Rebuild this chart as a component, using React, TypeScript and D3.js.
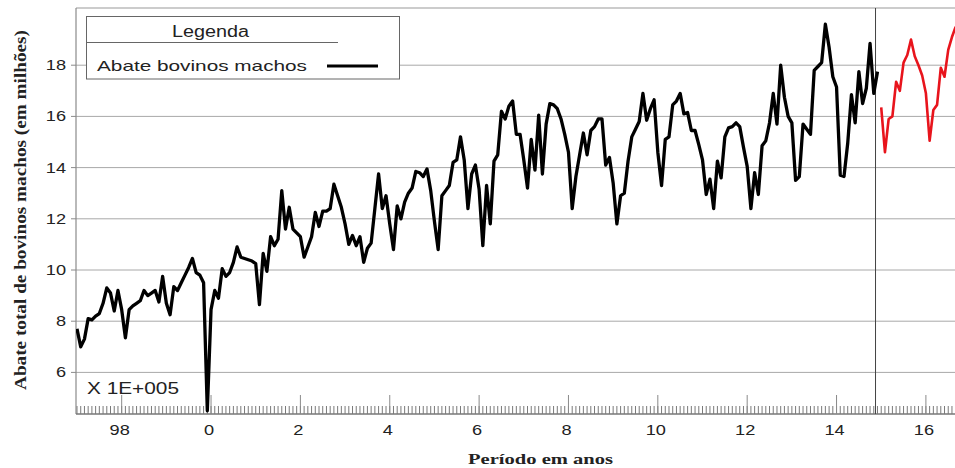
import React from "react";
import * as d3 from "d3";

// Monthly male cattle slaughter (x 100 000 head), starting January 1997
const startYear = 1997;

const observed: number[] = [
  // 1997
  7.7, 7.0, 7.3, 8.1, 8.05, 8.2, 8.3, 8.7, 9.3, 9.1, 8.4, 9.2,
  // 1998
  8.45, 7.35, 8.45, 8.6, 8.7, 8.8, 9.2, 9.0, 9.1, 9.2, 8.75, 9.75,
  // 1999
  8.7, 8.25, 9.35, 9.2, 9.5, 9.8, 10.1, 10.45, 9.9, 9.8, 9.5, 4.5,
  // 2000
  8.45, 9.2, 8.9, 10.05, 9.75, 9.9, 10.3, 10.9, 10.5, 10.45, 10.4, 10.35,
  // 2001
  10.25, 8.65, 10.65, 9.95, 11.3, 10.95, 11.2, 13.1, 11.6, 12.45, 11.6, 11.45,
  // 2002
  11.3, 10.5, 10.9, 11.3, 12.25, 11.7, 12.3, 12.3, 12.4, 13.35, 12.9, 12.45,
  // 2003
  11.8, 11.0, 11.35, 10.95, 11.3, 10.3, 10.85, 11.05, 12.4, 13.75, 12.4, 12.9,
  // 2004
  11.8, 10.8, 12.5, 12.0, 12.65, 13.0, 13.2, 13.85, 13.8, 13.65, 13.95, 13.1,
  // 2005
  11.9, 10.8, 12.9, 13.1, 13.3, 14.2, 14.3, 15.2, 14.3, 12.4, 13.75, 14.1,
  // 2006
  13.15, 10.95, 13.3, 11.8, 14.25, 14.5, 16.2, 15.9, 16.4, 16.6, 15.3, 15.3,
  // 2007
  14.3, 13.2, 15.1, 13.9, 16.05, 13.75, 15.7, 16.5, 16.45, 16.3, 15.9, 15.3,
  // 2008
  14.6, 12.4, 13.65, 14.5, 15.35, 14.5, 15.45, 15.6, 15.9, 15.9, 14.1, 14.4,
  // 2009
  13.4, 11.8, 12.9, 13.0, 14.25, 15.2, 15.5, 15.8, 16.9, 15.85, 16.3, 16.65,
  // 2010
  14.6, 13.3, 15.1, 15.2, 16.45, 16.6, 16.9, 16.1, 16.15, 15.45, 15.45, 14.9,
  // 2011
  14.3, 12.95, 13.55, 12.4, 14.25, 13.6, 15.2, 15.55, 15.6, 15.75, 15.6, 14.8,
  // 2012
  14.05, 12.4, 13.8, 12.95, 14.85, 15.05, 15.75, 16.9, 15.7, 18.0, 16.75, 16.0,
  // 2013
  15.75, 13.5, 13.65, 15.7, 15.5, 15.3, 17.8, 17.95, 18.1, 19.6, 18.7, 17.55,
  // 2014
  17.15, 13.7, 13.65, 14.95, 16.85, 15.75, 17.75, 16.5, 17.1, 18.85, 16.9, 17.75,
];

// Forecast, starting January 2015
const forecast: number[] = [
  16.35, 14.6, 15.9, 16.0, 17.35, 17.0, 18.1, 18.4, 19.0, 18.35, 18.0, 17.6,
  16.9, 15.05, 16.25, 16.45, 17.9, 17.55, 18.6, 19.1, 19.5,
];

const yTicks: number[] = [6, 8, 10, 12, 14, 16, 18];
const xTickYears: number[] = [1998, 2000, 2002, 2004, 2006, 2008, 2010, 2012, 2014, 2016];
const forecastStart = 2015;

const W = 955;
const H = 468;
const left = 76;
const right = 957;
const top = 8;
const bottom = 414;

const sans = "'Liberation Sans', Arial, sans-serif";
const serif = "'Liberation Serif', 'Times New Roman', serif";

export default function App() {
  const x = d3.scaleLinear().domain([1997, 2016]).range([77, 925.9]);
  const y = d3.scaleLinear().domain([10, 18]).range([270, 65.2]);

  const obsPts = observed.map((v, i) => [startYear + i / 12, v] as [number, number]);
  const fcPts = forecast.map(
    (v, i) => [forecastStart + i / 12, v] as [number, number]
  );

  const line = d3
    .line<[number, number]>()
    .x((d) => x(d[0]))
    .y((d) => y(d[1]));

  const monthTicks = d3.range(0, 12 * 20).map((m) => startYear + m / 12);
  const dividerX = x(forecastStart) - 5.7;

  return (
    <svg
      width={W}
      height={H}
      viewBox={`0 0 ${W} ${H}`}
      style={{ position: "absolute", left: 0, top: 0, background: "#fff" }}
    >
      <defs>
        <clipPath id="plot-area">
          <rect x={left} y={top} width={right - left} height={bottom - top} />
        </clipPath>
      </defs>
      <rect x={0} y={0} width={W} height={H} fill="#fff" />

      {/* horizontal grid */}
      {yTicks.map((t) => (
        <line
          key={"g" + t}
          x1={left}
          x2={right}
          y1={y(t)}
          y2={y(t)}
          stroke="#a8a8a8"
          strokeWidth={1}
        />
      ))}

      {/* frame */}
      <line x1={left} x2={right} y1={top} y2={top} stroke="#9a9a9a" strokeWidth={1.2} />
      <line x1={left} x2={left} y1={top} y2={bottom} stroke="#8a8a8a" strokeWidth={1.2} />
      <line x1={left} x2={right} y1={bottom} y2={bottom} stroke="#777" strokeWidth={1.5} />

      {/* monthly minor ticks */}
      <g clipPath="url(#plot-area)">
        {monthTicks.map((t, i) => (
          <line
            key={"m" + i}
            x1={x(t)}
            x2={x(t)}
            y1={bottom}
            y2={bottom - 8}
            stroke="#7a7a7a"
            strokeWidth={1}
          />
        ))}
      </g>
      {/* major ticks */}
      {xTickYears.map((t) => (
        <line
          key={"M" + t}
          x1={x(t)}
          x2={x(t)}
          y1={bottom}
          y2={bottom - 19}
          stroke="#8a8a8a"
          strokeWidth={1}
        />
      ))}

      {/* y ticks and labels */}
      {yTicks.map((t) => (
        <g key={"yt" + t}>
          <line x1={left - 5} x2={left} y1={y(t)} y2={y(t)} stroke="#8a8a8a" />
          <text
            transform={`translate(66,${y(t) + 5}) scale(1.3,1)`}
            textAnchor="end"
            fontFamily={sans}
            fontSize={14}
            fill="#222"
          >
            {t}
          </text>
        </g>
      ))}

      {/* x labels */}
      {xTickYears.map((t) => (
        <text
          key={"xl" + t}
          transform={`translate(${x(t) - 2},435) scale(1.3,1)`}
          textAnchor="middle"
          fontFamily={sans}
          fontSize={14}
          fill="#222"
        >
          {String(t % 100)}
        </text>
      ))}

      {/* observed / forecast divider */}
      <line
        x1={dividerX}
        x2={dividerX}
        y1={top}
        y2={bottom}
        stroke="#444"
        strokeWidth={1}
      />

      <g clipPath="url(#plot-area)">
        <path
          d={line(obsPts) ?? ""}
          fill="none"
          stroke="#000"
          strokeWidth={3.3}
          strokeLinejoin="round"
        />
        <path
          d={line(fcPts) ?? ""}
          fill="none"
          stroke="#e8141c"
          strokeWidth={2.6}
          strokeLinejoin="round"
        />
      </g>

      {/* legend */}
      <rect x={86.5} y={16.5} width={313} height={62.5} fill="#fff" stroke="#666" strokeWidth={1} />
      <line x1={86.5} x2={338} y1={42.5} y2={42.5} stroke="#666" strokeWidth={1} />
      <text
        x={172}
        y={37}
        fontFamily={sans}
        fontSize={16}
        textLength={77}
        lengthAdjust="spacingAndGlyphs"
        fill="#222"
      >
        Legenda
      </text>
      <text
        x={97}
        y={71}
        fontFamily={sans}
        fontSize={15}
        textLength={210}
        lengthAdjust="spacingAndGlyphs"
        fill="#222"
      >
        Abate bovinos machos
      </text>
      <line x1={327} x2={378} y1={66} y2={66} stroke="#000" strokeWidth={3} />

      {/* scale factor note */}
      <text
        x={87}
        y={394}
        fontFamily={sans}
        fontSize={16}
        textLength={92}
        lengthAdjust="spacingAndGlyphs"
        fill="#222"
      >
        X 1E+005
      </text>

      {/* axis titles */}
      <text
        x={468}
        y={464}
        fontFamily={serif}
        fontWeight="bold"
        fontSize={15}
        textLength={145}
        lengthAdjust="spacingAndGlyphs"
        fill="#222"
      >
        Período em anos
      </text>
      <text
        transform="translate(26,210) rotate(-90) scale(1,1.2)"
        textAnchor="middle"
        fontFamily={serif}
        fontWeight="bold"
        fontSize={14}
        textLength={360}
        lengthAdjust="spacingAndGlyphs"
        fill="#222"
      >
        Abate total de bovinos machos (em milhões)
      </text>
    </svg>
  );
}
